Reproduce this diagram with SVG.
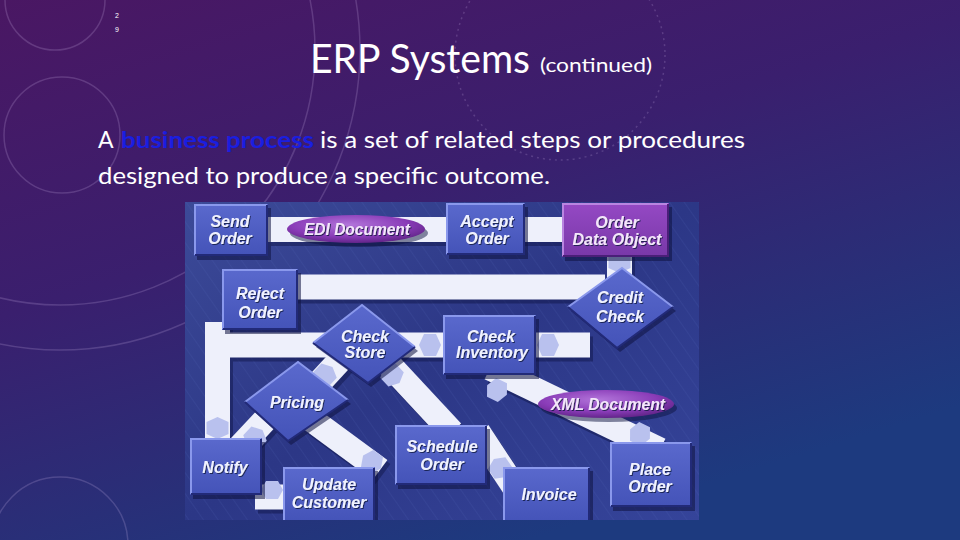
<svg xmlns="http://www.w3.org/2000/svg" xmlns:xlink="http://www.w3.org/1999/xlink" width="960" height="540" viewBox="0 0 960 540">
<defs>
  <linearGradient id="bg" x1="0" y1="0" x2="0.55" y2="1">
    <stop offset="0" stop-color="#4a1763"/>
    <stop offset="0.45" stop-color="#3a1f6e"/>
    <stop offset="1" stop-color="#1d3a7f"/>
  </linearGradient>
  <linearGradient id="imgbg" x1="0" y1="0" x2="1" y2="1">
    <stop offset="0" stop-color="#3c4a98"/>
    <stop offset="0.5" stop-color="#2c3786"/>
    <stop offset="1" stop-color="#35449a"/>
  </linearGradient>
  <pattern id="streak" width="12" height="12" patternUnits="userSpaceOnUse" patternTransform="rotate(-35)">
    <line x1="0" y1="0" x2="0" y2="12" stroke="#5666b8" stroke-width="2" opacity="0.15"/>
  </pattern>
  <linearGradient id="node" x1="0" y1="0" x2="0" y2="1">
    <stop offset="0" stop-color="#5a69cd"/>
    <stop offset="1" stop-color="#4453b8"/>
  </linearGradient>
  <linearGradient id="purp" x1="0" y1="0" x2="0" y2="1">
    <stop offset="0" stop-color="#9549c4"/>
    <stop offset="1" stop-color="#7838a8"/>
  </linearGradient>
  <radialGradient id="ell" cx="0.45" cy="0.35" r="0.7">
    <stop offset="0" stop-color="#b275da"/>
    <stop offset="0.6" stop-color="#8a3cb8"/>
    <stop offset="1" stop-color="#5a2080"/>
  </radialGradient>
  <filter id="ts" x="-10%" y="-30%" width="130%" height="170%">
    <feDropShadow dx="1" dy="1" stdDeviation="0.6" flood-color="#101540" flood-opacity="0.8"/>
  </filter>
  <clipPath id="imgclip"><rect x="185" y="202" width="514" height="318"/></clipPath>
  <polygon id="hx" points="-11,0 -6,-10 6,-10 11,0 6,10 -6,10"/>
  <style>
    .deco { fill:none; stroke:#d8c0f0; stroke-width:1.5; opacity:0.2; }
    .band { fill:none; stroke:#eef0fb; stroke-width:25; }
    .bandsh { fill:none; stroke:#10164a; stroke-width:25; opacity:0.5; }
    .box { fill:url(#node); }
    .pbox { fill:url(#purp); }
    .hl { fill:none; stroke:#8a98ec; stroke-width:2; }
    .dk { fill:none; stroke:#222a78; stroke-width:2; }
    .sh { fill:#0e1340; opacity:0.55; }
    .lbl { font-family:"Liberation Sans", Arial, sans-serif; font-weight:bold; font-style:italic; font-size:16px; fill:#f0f2ff; text-anchor:middle; filter:url(#ts); }
    .plbl { fill:#f3e6fb; }
    .hex { fill:#b9c1ee; }
    .body { font-family:Lato, "Liberation Sans", sans-serif; font-size:23px; fill:#ffffff; }
  </style>
</defs>

<!-- slide background -->
<rect x="0" y="0" width="960" height="540" fill="url(#bg)"/>
<g id="decoration">
  <circle class="deco" cx="60" cy="50" r="255"/>
  <circle class="deco" cx="60" cy="50" r="300"/>
  <circle class="deco" cx="62" cy="135" r="58"/>
  <circle class="deco" cx="55" cy="0" r="50"/>
  <circle class="deco" cx="60" cy="545" r="68"/>
  <circle class="deco" cx="560" cy="55" r="105" stroke-dasharray="2 4"/>
</g>

<!-- slide number -->
<text x="117" y="18" font-family="Liberation Sans, sans-serif" font-size="7" fill="#ffffff" text-anchor="middle">2</text>
<text x="117" y="32" font-family="Liberation Sans, sans-serif" font-size="7" fill="#ffffff" text-anchor="middle">9</text>

<!-- title -->
<text x="310" y="73" font-family="Lato, 'Liberation Sans', sans-serif" font-size="40" fill="#ffffff" textLength="220" lengthAdjust="spacingAndGlyphs">ERP Systems</text>
<text x="540" y="72" font-family="Lato, 'Liberation Sans', sans-serif" font-size="20" fill="#ffffff" textLength="112" lengthAdjust="spacingAndGlyphs">(continued)</text>

<!-- body text -->
<text class="body" x="98" y="148">A</text>
<text class="body" x="121" y="148" font-weight="bold" style="fill:#1a1ee0" textLength="193" lengthAdjust="spacingAndGlyphs">business process</text>
<text class="body" x="320" y="148" textLength="425" lengthAdjust="spacingAndGlyphs">is a set of related steps or procedures</text>
<text class="body" x="98" y="184" textLength="452" lengthAdjust="spacingAndGlyphs">designed to produce a specific outcome.</text>

<!-- flowchart picture -->
<g clip-path="url(#imgclip)">
  <rect x="185" y="202" width="514" height="318" fill="url(#imgbg)"/>
  <rect x="185" y="202" width="514" height="318" fill="url(#streak)"/>

  <g id="connectors">
    <g transform="translate(3,4)">
      <path class="bandsh" d="M268,229.5 H562"/>
      <path class="bandsh" d="M619.5,250 V285"/>
      <path class="bandsh" d="M290,287 H605"/>
      <path class="bandsh" d="M217.5,322 V440 M205,345 H590"/>
      <path class="bandsh" d="M385,360 L452,432"/>
      <path class="bandsh" d="M490,368 L660,450"/>
      <path class="bandsh" d="M265,420 L235,452"/>
      <path class="bandsh" d="M312,420 L380,470"/>
      <path class="bandsh" d="M255,497 H290"/>
      <path class="bandsh" d="M478,432 L515,488"/>
      <path class="bandsh" d="M342,358 L318,384"/>
    </g>
    <path class="band" d="M268,229.5 H562"/>
    <path class="band" d="M619.5,250 V285"/>
    <path class="band" d="M290,287 H605"/>
    <path class="band" d="M217.5,322 V440 M205,345 H590"/>
    <path class="band" d="M385,360 L452,432"/>
    <path class="band" d="M490,368 L660,450"/>
    <path class="band" d="M265,420 L235,452"/>
    <path class="band" d="M312,420 L380,470"/>
    <path class="band" d="M255,497 H290"/>
    <path class="band" d="M478,432 L515,488"/>
    <path class="band" d="M342,358 L318,384"/>
    <use xlink:href="#hx" href="#hx" class="hex" transform="translate(217.5,428) rotate(90) scale(1,1.1)"/>
    <use xlink:href="#hx" href="#hx" class="hex" transform="translate(430,345) scale(1,1.1)"/>
    <use xlink:href="#hx" href="#hx" class="hex" transform="translate(548,345) scale(1,1.1)"/>
    <use xlink:href="#hx" href="#hx" class="hex" transform="translate(325,375) rotate(-47) scale(1,1.05)"/>
    <use xlink:href="#hx" href="#hx" class="hex" transform="translate(392,375) rotate(47) scale(1,1.05)"/>
    <use xlink:href="#hx" href="#hx" class="hex" transform="translate(497,390) rotate(26) scale(1,1.05)"/>
    <use xlink:href="#hx" href="#hx" class="hex" transform="translate(640,434) rotate(26) scale(1,1.05)"/>
    <use xlink:href="#hx" href="#hx" class="hex" transform="translate(272,490) scale(1,0.9)"/>
    <use xlink:href="#hx" href="#hx" class="hex" transform="translate(255,438) rotate(-47) scale(1,1.05)"/>
    <use xlink:href="#hx" href="#hx" class="hex" transform="translate(372,462) rotate(36) scale(1,1.05)"/>
    <use xlink:href="#hx" href="#hx" class="hex" transform="translate(500,468) rotate(56) scale(1,1.05)"/>
    <use xlink:href="#hx" href="#hx" class="hex" transform="translate(619.5,262) rotate(90) scale(1,1.1)"/>
  </g>

  <g id="send-order">
    <rect class="sh" x="197" y="208" width="74" height="52"/>
    <rect class="box" x="194" y="204" width="74" height="52"/>
    <polyline class="hl" points="195,255 195,205 267,205"/>
    <polyline class="dk" points="267,205 267,255 195,255"/>
    <text class="lbl" x="230" y="227">Send</text>
    <text class="lbl" x="230" y="244">Order</text>
  </g>

  <g id="edi-document">
    <ellipse cx="359" cy="233" rx="69" ry="14" fill="#0e1340" opacity="0.5"/>
    <ellipse cx="356" cy="229" rx="69" ry="14" fill="url(#ell)"/>
    <text class="lbl plbl" x="357" y="235" textLength="106" lengthAdjust="spacingAndGlyphs">EDI Document</text>
  </g>

  <g id="accept-order">
    <rect class="sh" x="449" y="207" width="79" height="52"/>
    <rect class="box" x="446" y="203" width="79" height="52"/>
    <polyline class="hl" points="447,254 447,204 524,204"/>
    <polyline class="dk" points="524,204 524,254 447,254"/>
    <text class="lbl" x="487" y="227">Accept</text>
    <text class="lbl" x="487" y="244">Order</text>
  </g>

  <g id="order-data-object">
    <rect class="sh" x="565" y="207" width="107" height="54"/>
    <rect class="pbox" x="562" y="203" width="107" height="54"/>
    <polyline class="hl" points="563,256 563,204 668,204" style="stroke:#b985e0"/>
    <polyline class="dk" points="668,204 668,256 563,256" style="stroke:#4a1f78"/>
    <text class="lbl plbl" x="617" y="228">Order</text>
    <text class="lbl plbl" x="617" y="245">Data Object</text>
  </g>

  <g id="reject-order">
    <rect class="sh" x="225" y="273" width="76" height="61"/>
    <rect class="box" x="222" y="269" width="76" height="61"/>
    <polyline class="hl" points="223,329 223,270 297,270"/>
    <polyline class="dk" points="297,270 297,329 223,329"/>
    <text class="lbl" x="260" y="299">Reject</text>
    <text class="lbl" x="260" y="318">Order</text>
  </g>

  <g id="credit-check">
    <polygon class="sh" points="625,272 676,311 620,352 571,311"/>
    <polygon class="box" points="622,268 673,307 617,348 568,307"/>
    <polyline class="hl" points="568,307 622,268 673,307"/>
    <polyline class="dk" points="673,307 617,348 568,307"/>
    <text class="lbl" x="620" y="303">Credit</text>
    <text class="lbl" x="620" y="322">Check</text>
  </g>

  <g id="check-store">
    <polygon class="sh" points="365,309 418,351 371,387 316,347"/>
    <polygon class="box" points="362,305 415,347 368,383 313,343"/>
    <polyline class="hl" points="313,343 362,305 415,347"/>
    <polyline class="dk" points="415,347 368,383 313,343"/>
    <text class="lbl" x="365" y="342">Check</text>
    <text class="lbl" x="365" y="358">Store</text>
  </g>

  <g id="check-inventory">
    <rect class="sh" x="446" y="319" width="93" height="60"/>
    <rect class="box" x="443" y="315" width="93" height="60"/>
    <polyline class="hl" points="444,374 444,316 535,316"/>
    <polyline class="dk" points="535,316 535,374 444,374"/>
    <text class="lbl" x="491" y="342">Check</text>
    <text class="lbl" x="492" y="358">Inventory</text>
  </g>

  <g id="xml-document">
    <ellipse cx="609" cy="408" rx="68" ry="14" fill="#0e1340" opacity="0.5"/>
    <ellipse cx="606" cy="404" rx="68" ry="14" fill="url(#ell)"/>
    <text class="lbl plbl" x="608" y="410" textLength="114" lengthAdjust="spacingAndGlyphs">XML Document</text>
  </g>

  <g id="pricing">
    <polygon class="sh" points="301,366 351,404 291,445 248,406"/>
    <polygon class="box" points="298,362 348,400 288,441 245,402"/>
    <polyline class="hl" points="245,402 298,362 348,400"/>
    <polyline class="dk" points="348,400 288,441 245,402"/>
    <text class="lbl" x="297" y="408">Pricing</text>
  </g>

  <g id="schedule-order">
    <rect class="sh" x="398" y="429" width="92" height="60"/>
    <rect class="box" x="395" y="425" width="92" height="60"/>
    <polyline class="hl" points="396,484 396,426 486,426"/>
    <polyline class="dk" points="486,426 486,484 396,484"/>
    <text class="lbl" x="442" y="452">Schedule</text>
    <text class="lbl" x="442" y="470">Order</text>
  </g>

  <g id="notify">
    <rect class="sh" x="193" y="442" width="72" height="57"/>
    <rect class="box" x="190" y="438" width="72" height="57"/>
    <polyline class="hl" points="191,494 191,439 261,439"/>
    <polyline class="dk" points="261,439 261,494 191,494"/>
    <text class="lbl" x="225" y="473">Notify</text>
  </g>

  <g id="update-customer">
    <rect class="sh" x="286" y="471" width="92" height="55"/>
    <rect class="box" x="283" y="467" width="92" height="55"/>
    <polyline class="hl" points="284,521 284,468 374,468"/>
    <polyline class="dk" points="374,468 374,521"/>
    <text class="lbl" x="329" y="490">Update</text>
    <text class="lbl" x="329" y="508">Customer</text>
  </g>

  <g id="invoice">
    <rect class="sh" x="506" y="471" width="87" height="55"/>
    <rect class="box" x="503" y="467" width="87" height="55"/>
    <polyline class="hl" points="504,521 504,468 589,468"/>
    <polyline class="dk" points="589,468 589,521"/>
    <text class="lbl" x="549" y="500">Invoice</text>
  </g>

  <g id="place-order">
    <rect class="sh" x="613" y="446" width="82" height="65"/>
    <rect class="box" x="610" y="442" width="82" height="65"/>
    <polyline class="hl" points="611,506 611,443 691,443"/>
    <polyline class="dk" points="691,443 691,506 611,506"/>
    <text class="lbl" x="650" y="475">Place</text>
    <text class="lbl" x="650" y="492">Order</text>
  </g>
</g>
</svg>
